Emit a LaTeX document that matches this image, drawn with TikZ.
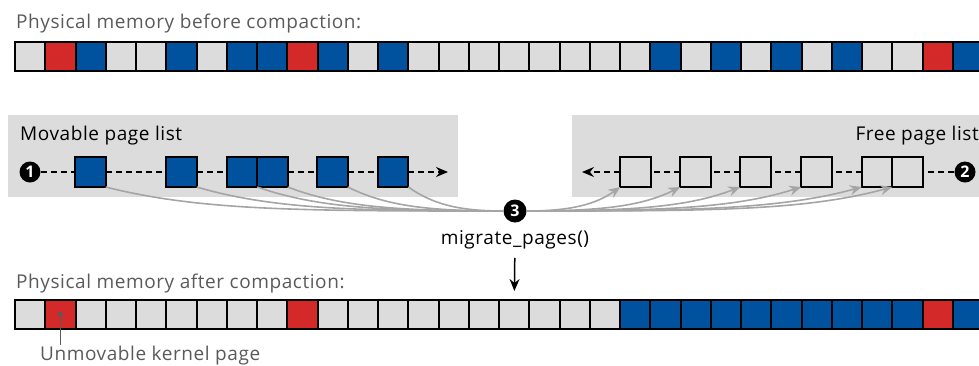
\documentclass[tikz,border=0pt]{standalone}
\usepackage{fontspec}
\setmainfont{Open Sans}[LetterSpace=3]
\usepackage{tikz}
\usetikzlibrary{arrows.meta}
\usetikzlibrary{positioning}

\definecolor{pg}{RGB}{220,220,220}
\definecolor{pr}{RGB}{211,41,41}
\definecolor{pb}{RGB}{0,81,158}
\definecolor{titlegray}{RGB}{90,90,90}
\definecolor{curvegray}{RGB}{165,165,165}

\begin{document}
\begin{tikzpicture}[x=1pt,y=-1pt]
\tikzset{font=\fontsize{19}{23}\selectfont}
\tikzset{page/.style={draw=black, line width=2pt, minimum width=30.25pt, minimum height=29pt, inner sep=0pt, outer sep=0pt}}
\tikzset{listpage/.style={page, line width=1.6pt, minimum width=30.5pt, minimum height=30pt}}
\tikzset{panel/.style={fill=pg, inner sep=0pt, anchor=north west}}
\tikzset{title/.style={text=titlegray, anchor=base west, inner sep=0pt}}
\tikzset{num/.style={circle, fill=black, text=white, font=\fontsize{16}{16}\selectfont\bfseries, minimum size=21pt, inner sep=0pt}}
\tikzset{link/.style={draw, line width=1.5pt, dash pattern=on 6pt off 4pt}}
\tikzset{tip/.style={-{Stealth[length=12pt, width=10pt, inset=4pt]}}}
\tikzset{migr/.style={draw=curvegray, line width=1.6pt}}
\useasboundingbox (0,0) rectangle (979,365);

\node[title] (before) at (16,28) {Physical memory before compaction:};
\foreach \c [count=\i from 0] in {pg,pr,pb,pg,pg,pb,pg,pb,pb,pr,pb,pg,pb,pg,pg,pg,pg,pg,pg,pg,pg,pb,pg,pb,pg,pb,pg,pb,pg,pg,pr,pb}
  \node[page, fill=\c] (top\i) at (30.125+30.25*\i, 56) {};

\node[panel, minimum width=450pt, minimum height=82pt] (movpanel) at (8,115) {};
\node[panel, minimum width=407pt, minimum height=82pt] (freepanel) at (572,115) {};
\node[anchor=base west, inner sep=0pt] (movlabel) at (20,140) {Movable page list};
\node[anchor=base east, inner sep=0pt] (freelabel) at (979,140) {Free page list};

\node[num] (n1) at (30,172) {1};
\node[listpage, fill=pb] (m1) at (90.5,172) {};
\node[listpage, fill=pb] (m2) at (181.5,172) {};
\node[listpage, fill=pb] (m3) at (242,172) {};
\node[listpage, fill=pb, right=0pt of m3] (m4) {};
\node[listpage, fill=pb] (m5) at (332.5,172) {};
\node[listpage, fill=pb] (m6) at (393,172) {};
\coordinate (mend) at (448,172);
\draw[link] (n1) -- (m1) -- (m2) -- (m3) (m4) -- (m5) -- (m6);
\draw[link, tip] (m6) -- (mend);

\node[num] (n2) at (965,172) {2};
\node[listpage, fill=pg] (f1) at (907.5,172) {};
\node[listpage, fill=pg, left=0pt of f1] (f2) {};
\node[listpage, fill=pg] (f3) at (816.5,172) {};
\node[listpage, fill=pg] (f4) at (755.5,172) {};
\node[listpage, fill=pg] (f5) at (695.5,172) {};
\node[listpage, fill=pg] (f6) at (635.5,172) {};
\coordinate (fend) at (582,172);
\draw[link] (n2) -- (f1) (f2) -- (f3) -- (f4) -- (f5) -- (f6);
\draw[link, tip] (f6) -- (fend);

\node[num, minimum size=23pt] (n3) at (515,211) {3};
\node[anchor=base, inner sep=0pt] (mig) at (515,244) {migrate\_pages()};

\draw[migr] (m1.south east) .. controls +(95,24) and +(-200,0) .. (n3.west);
\draw[migr] (m2.south east) .. controls +(75,22) and +(-150,0) .. (n3.west);
\draw[migr] (m3.south east) .. controls +(60,21) and +(-120,0) .. (n3.west);
\draw[migr] (m4.south east) .. controls +(52,20) and +(-105,0) .. (n3.west);
\draw[migr] (m5.south east) .. controls +(38,19) and +(-75,0) .. (n3.west);
\draw[migr] (m6.south east) .. controls +(24,17) and +(-45,0) .. (n3.west);
\draw[migr, tip] (n3.east) .. controls +(45,0) and +(-24,17) .. (f6.south west);
\draw[migr, tip] (n3.east) .. controls +(75,0) and +(-38,19) .. (f5.south west);
\draw[migr, tip] (n3.east) .. controls +(105,0) and +(-52,20) .. (f4.south west);
\draw[migr, tip] (n3.east) .. controls +(135,0) and +(-66,21) .. (f3.south west);
\draw[migr, tip] (n3.east) .. controls +(165,0) and +(-80,22) .. (f2.south west);
\draw[migr, tip] (n3.east) .. controls +(180,0) and +(-88,24) .. (f1.south west);

\node[title] (after) at (16,288) {Physical memory after compaction:};
\foreach \c [count=\i from 0] in {pg,pr,pg,pg,pg,pg,pg,pg,pg,pr,pg,pg,pg,pg,pg,pg,pg,pg,pg,pg,pb,pb,pb,pb,pb,pb,pb,pb,pb,pb,pr,pb}
  \node[page, fill=\c] (bot\i) at (30.125+30.25*\i, 314.5) {};

\draw[line width=1.5pt, tip, shorten <=9pt, shorten >=9pt] (mig) -- (bot16);

\node[title] (unmov) at (40,360) {Unmovable kernel page};
\fill[titlegray] (bot1.center) circle (2.5);
\draw[titlegray, line width=1.5pt] (bot1.center) -- (bot1.center |- unmov.north);
\end{tikzpicture}
\end{document}
